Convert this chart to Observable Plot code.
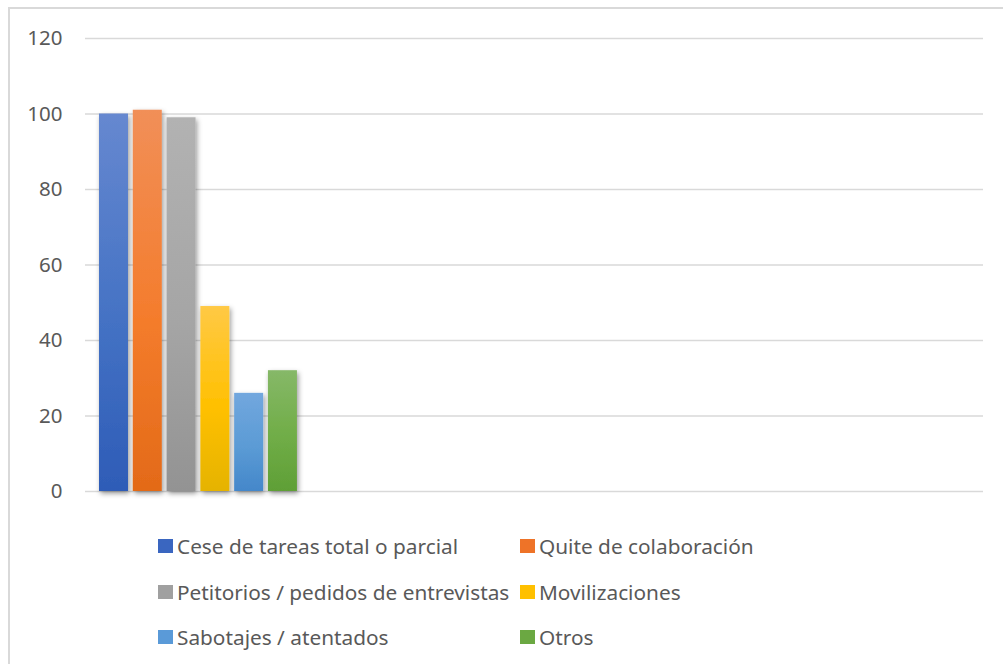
<!DOCTYPE html>
<html><head><meta charset="utf-8">
<script src="https://cdn.jsdelivr.net/npm/d3@7"></script>
<script src="https://cdn.jsdelivr.net/npm/@observablehq/plot@0.6"></script>
<style>
html,body{margin:0;padding:0;background:#fff;overflow:hidden;width:1003px;height:664px;}
#frame{position:absolute;left:8px;top:7px;width:1100px;height:800px;border:2px solid #d9d9d9;box-sizing:border-box;}
#chart{position:absolute;left:0;top:0;}
#legend{position:absolute;left:0;top:0;width:1003px;height:664px;font-family:"Noto Sans",sans-serif;color:#595959;}
.item{position:absolute;display:flex;align-items:center;white-space:nowrap;font-size:20.8px;height:32px;}
.sw{width:15px;height:14px;margin-right:4px;flex:none;}
</style></head><body>
<div id="frame"></div><div id="chart"></div><div id="legend"></div>
<script>
const series = ["Cese de tareas total o parcial","Quite de colaboración","Petitorios / pedidos de entrevistas","Movilizaciones","Sabotajes / atentados","Otros"];
const values = [100, 101, 99, 49, 26, 32];
const yTicks = [0, 20, 40, 60, 80, 100, 120];

const gradTop = ["#6688D0","#F18F58","#B2B2B2","#FFC945","#72A7DE","#86B868"];
const gradMid = ["#4472C4","#F47C2C","#A5A5A5","#FFC000","#5B9BD5","#70AD47"];
const gradBot = ["#2E5CB7","#E36A18","#939393","#E5B300","#4487CA","#5F9F36"];
const swatch = ["#3A66C0","#EE7328","#A0A0A0","#FFC000","#5A9AD8","#6BA842"];

const data = series.map((s, i) => ({series: s, value: values[i]}));

const plot = Plot.plot({
  width: 1003, height: 510,
  marginLeft: 85, marginRight: 20, marginTop: 38, marginBottom: 19,
  style: {fontFamily: "Noto Sans, sans-serif", color: "#595959", background: "transparent"},
  x: {domain: series, paddingInner: 0.142, paddingOuter: 10.36, align: 0.02, round: false, axis: null},
  y: {domain: [0, 120], axis: null},
  color: {type: "ordinal", domain: series, range: series.map((_, i) => `url(#grad${i})`)},
  marks: [
    Plot.ruleY(yTicks, {stroke: "#d9d9d9", strokeWidth: 1.6}),
    Plot.axisY(yTicks, {tickSize: 0, tickPadding: 23, fontSize: 20.5, fill: "#595959", label: null}),
    Plot.barY(data, {x: "series", y: "value", fill: "series"})
  ]
});

const svg = d3.select(plot);
const defs = svg.insert("defs", ":first-child");
series.forEach((s, i) => {
  const g = defs.append("linearGradient").attr("id", `grad${i}`)
    .attr("x1", 0).attr("y1", 0).attr("x2", 0).attr("y2", 1);
  g.append("stop").attr("offset", "0%").attr("stop-color", gradTop[i]);
  g.append("stop").attr("offset", "55%").attr("stop-color", gradMid[i]);
  g.append("stop").attr("offset", "100%").attr("stop-color", gradBot[i]);
});
const f = defs.append("filter").attr("id", "shadow")
  .attr("x", "-30%").attr("y", "-5%").attr("width", "170%").attr("height", "115%");
f.append("feDropShadow").attr("dx", 1.5).attr("dy", 2.5).attr("stdDeviation", 2.5)
  .attr("flood-color", "#000").attr("flood-opacity", 0.4);
svg.select('g[aria-label="bar"]').selectAll("rect").attr("filter", "url(#shadow)");

document.getElementById("chart").appendChild(plot);

const legend = document.getElementById("legend");
const colLeft = [158, 520];
const rowCenter = [546, 592, 637];
series.forEach((s, i) => {
  const col = i % 2, row = Math.floor(i / 2);
  const item = document.createElement("div");
  item.className = "item";
  item.style.left = colLeft[col] + "px";
  item.style.top = (rowCenter[row] - 16) + "px";
  const sw = document.createElement("div");
  sw.className = "sw";
  sw.style.background = swatch[i];
  const t = document.createElement("span");
  t.textContent = s;
  item.appendChild(sw); item.appendChild(t);
  legend.appendChild(item);
});
</script>
</body></html>
